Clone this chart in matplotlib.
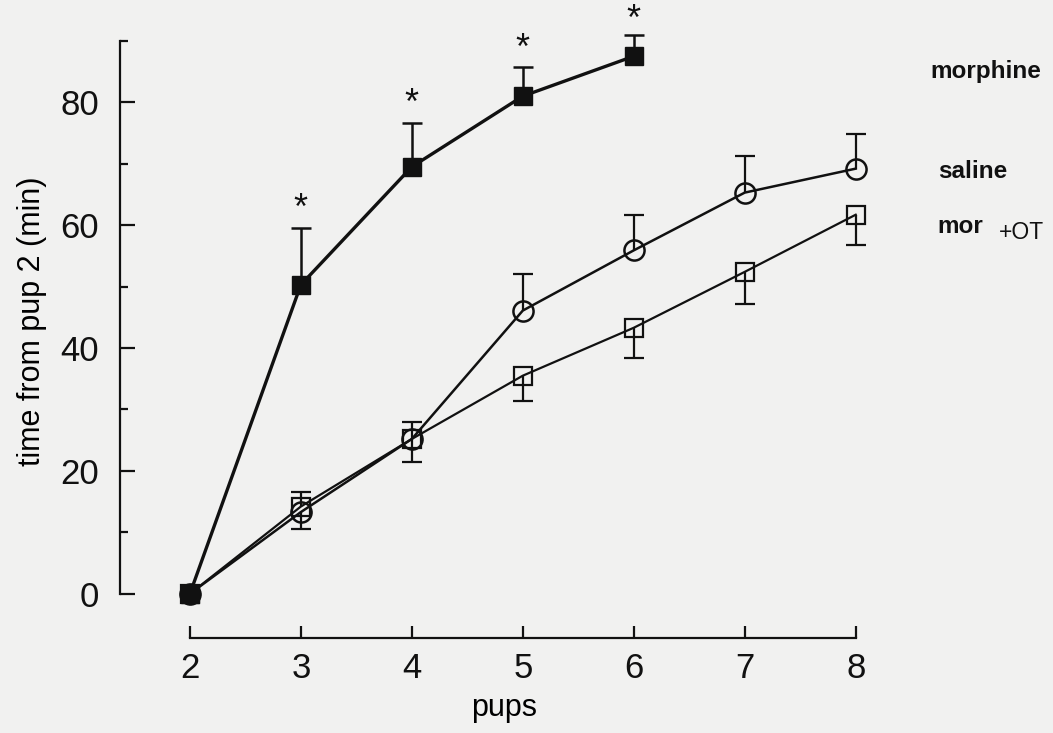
import numpy as np
import matplotlib.pyplot as plt

plt.rcParams['font.family'] = ['Liberation Sans', 'DejaVu Sans']

pups = [2, 3, 4, 5, 6, 7, 8]

# morphine (filled squares), error bars upward
morphine_x = [2, 3, 4, 5, 6]
morphine = [0, 50.3, 69.5, 81.0, 87.5]
morphine_err = [0, 9.3, 7.2, 4.8, 3.5]

# saline (open circles)
saline = [0, 13.3, 25.2, 46.1, 55.9, 65.3, 69.2]
saline_up = [0, 0, 2.7, 6.0, 5.8, 6.0, 5.6]
saline_down = [0, 2.7, 0, 0, 0, 0, 0]

# morphine + OT (open squares)
mor_ot = [0, 14.2, 25.2, 35.5, 43.3, 52.4, 61.7]
mor_ot_up = [0, 2.3, 0, 0, 0, 0, 0]
mor_ot_down = [0, 0, 3.7, 4.2, 4.9, 5.3, 5.0]

star_x = [3, 4, 5, 6]
star_y = [62.5, 79.6, 88.6, 93.3]

ink = '#111111'
bg = '#f1f1f0'
fig = plt.figure(figsize=(10.53, 7.33), dpi=100, facecolor=bg)
ax = fig.add_axes([120 / 1053, 95 / 733, 769 / 1053, 634 / 733])
ax.set_facecolor(bg)

cap = 0.09  # half cap width, in pups


def err_bars(x, y, down, up, lw):
    # one-sided SEM bars, drawn as stem + cap
    for xi, yi, d, u in zip(x, y, down, up):
        for e in (u, -d):
            if e == 0:
                continue
            ax.vlines(xi, yi, yi + e, color=ink, lw=lw, zorder=2)
            ax.hlines(yi + e, xi - cap, xi + cap, color=ink, lw=lw, zorder=2)


err_bars(pups, saline, saline_down, saline_up, 1.6)
err_bars(pups, mor_ot, mor_ot_down, mor_ot_up, 1.6)
err_bars(morphine_x, morphine, [0] * len(morphine), morphine_err, 1.8)

ax.plot(pups, saline, '-', color=ink, lw=1.8, marker='o', ms=14.5,
        mfc='none', mec=ink, mew=1.8, zorder=3)
ax.plot(pups, mor_ot, '-', color=ink, lw=1.6, marker='s', ms=13,
        mfc='none', mec=ink, mew=1.6, zorder=3)
ax.plot(morphine_x, morphine, '-', color=ink, lw=2.4, marker='s', ms=13,
        mfc=ink, mec=ink, zorder=4)

for x, y in zip(star_x, star_y):
    ax.text(x, y, '*', fontsize=26, ha='center', va='center', color=ink)

ax.text(8.67, 85, 'morphine', fontsize=17.5, fontweight='bold', ha='left', va='center',
        clip_on=False, color=ink)
ax.text(8.74, 68.7, 'saline', fontsize=17.5, fontweight='bold', ha='left', va='center',
        clip_on=False, color=ink)
ax.text(8.74, 59.8, 'mor', fontsize=17.5, fontweight='bold', ha='left', va='center',
        clip_on=False, color=ink)
ax.text(9.29, 58.8, '+OT', fontsize=16.5, ha='left', va='center',
        clip_on=False, color=ink)

ax.set_xlim(1.37, 8.3)
ax.set_ylim(-7.2, 96)

for s in ['top', 'right']:
    ax.spines[s].set_visible(False)
ax.spines['left'].set_bounds(0, 90)
ax.spines['bottom'].set_bounds(2, 8)
for s in ['left', 'bottom']:
    ax.spines[s].set_linewidth(1.6)
    ax.spines[s].set_color(ink)

ax.set_xticks(pups)
ax.set_yticks([0, 20, 40, 60, 80])
ax.set_yticks([10, 30, 50, 70, 90], minor=True)
ax.tick_params(axis='y', which='major', direction='in', length=11, width=1.6,
               labelsize=25, pad=15, colors=ink)
ax.tick_params(axis='y', which='minor', direction='in', length=5.5, width=1.6,
               colors=ink)
ax.tick_params(axis='x', which='major', direction='in', length=9, width=1.6,
               labelsize=25, pad=10, colors=ink)

ax.set_xlabel('pups', fontsize=22, labelpad=6)
ax.set_ylabel('time from pup 2 (min)', fontsize=22, labelpad=10)

fig.savefig('out.png', dpi=100, facecolor=bg)
